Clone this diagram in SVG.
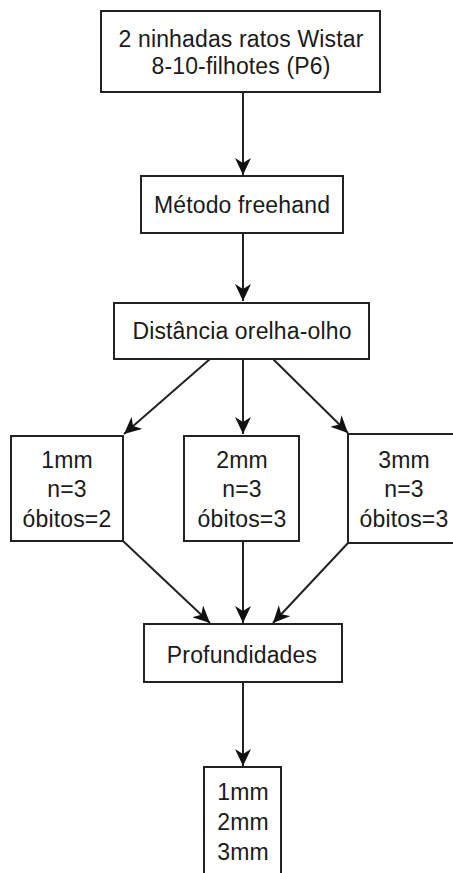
<svg xmlns="http://www.w3.org/2000/svg" width="453" height="873" viewBox="0 0 453 873">
<defs>
<marker id="arr" markerUnits="userSpaceOnUse" markerWidth="18" markerHeight="16" refX="17" refY="8" orient="auto" viewBox="0 0 18 16">
<path d="M0,0 L17,8 L0,16 L5,8 z" fill="#111"/>
</marker>
<style>
.box{fill:#fff;stroke:#222;stroke-width:2}
.t{font-family:"Liberation Sans",Arial,sans-serif;font-size:23px;fill:#1a1a1a;text-anchor:middle;letter-spacing:0.15px}
.c{stroke:#222;stroke-width:2;fill:none;marker-end:url(#arr)}
</style>
</defs>
<rect width="453" height="873" fill="#fff"/>
<g id="connectors">
<line class="c" x1="243" y1="92" x2="243" y2="175"/>
<line class="c" x1="243" y1="233" x2="243" y2="301"/>
<line class="c" x1="210" y1="359" x2="124" y2="434"/>
<line class="c" x1="243" y1="359" x2="243" y2="434"/>
<line class="c" x1="273" y1="359" x2="348" y2="433"/>
<line class="c" x1="123" y1="541" x2="210" y2="623"/>
<line class="c" x1="243" y1="541" x2="243" y2="623"/>
<line class="c" x1="348" y1="543" x2="273" y2="623"/>
<line class="c" x1="243" y1="682" x2="243" y2="766"/>
</g>
<g id="n1">
<rect class="box" x="101" y="11" width="279" height="81"/>
<text class="t" x="241" y="47">2 ninhadas ratos Wistar</text>
<text class="t" x="241" y="74">8-10-filhotes (P6)</text>
</g>
<g id="n2">
<rect class="box" x="141" y="176" width="202" height="57"/>
<text class="t" x="242" y="213">Método freehand</text>
</g>
<g id="n3">
<rect class="box" x="114" y="303" width="255" height="56"/>
<text class="t" x="242" y="339">Distância orelha-olho</text>
</g>
<g id="n4">
<rect class="box" x="11" y="436" width="112" height="105"/>
<text class="t" x="67" y="468">1mm</text>
<text class="t" x="67" y="497">n=3</text>
<text class="t" x="67" y="527">óbitos=2</text>
</g>
<g id="n5">
<rect class="box" x="184" y="436" width="115" height="105"/>
<text class="t" x="242" y="468">2mm</text>
<text class="t" x="242" y="497">n=3</text>
<text class="t" x="242" y="527">óbitos=3</text>
</g>
<g id="n6">
<rect class="box" x="348" y="434" width="112" height="109"/>
<text class="t" x="404" y="468">3mm</text>
<text class="t" x="404" y="497">n=3</text>
<text class="t" x="404" y="527">óbitos=3</text>
</g>
<g id="n7">
<rect class="box" x="144" y="624" width="198" height="58"/>
<text class="t" x="242" y="663">Profundidades</text>
</g>
<g id="n8">
<rect class="box" x="204" y="767" width="77" height="110"/>
<text class="t" x="243" y="800">1mm</text>
<text class="t" x="243" y="830">2mm</text>
<text class="t" x="243" y="860">3mm</text>
</g>
</svg>
